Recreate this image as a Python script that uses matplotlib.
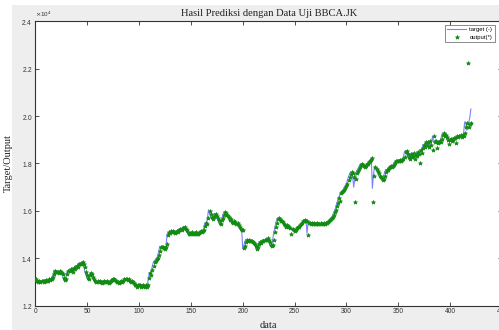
import matplotlib
matplotlib.use("Agg")
import matplotlib.pyplot as plt
from matplotlib.patches import Rectangle
import numpy as np

# Closing prices of BBCA.JK in the test set (target) and the network's predictions (output)
target = [
    13100, 13050, 13000, 13050, 13000, 13050, 13050, 13000, 13050, 13100,
    13050, 13050, 13100, 13100, 13150, 13100, 13200,
    13300, 13500, 13450, 13400, 13450, 13400,
    13450, 13450, 13400, 13350, 13150, 13050, 13100,
    13350, 13450, 13500, 13550, 13500, 13450, 13600, 13550, 13650, 13700,
    13600, 13750, 13800, 13750, 13800,
    13850, 13800, 13600,
    13400, 13300, 13150, 13100, 13300, 13400,
    13350, 13200, 13100, 13050, 13000,
    13050, 13000, 13050, 13000, 12950, 13000, 13050, 13000, 13000, 13050,
    13000, 12950, 13000, 13050, 13100, 13150, 13150, 13100, 13050, 13000,
    13000, 12950,
    13000, 13050, 13000, 13050, 13100, 13150, 13150, 13100, 13100, 13050,
    13000, 13050, 13000, 12950, 12900, 12850, 12800,
    12850, 12900, 12850, 12800, 12850, 12900, 12850, 12800, 12850, 12800,
    12850,
    13150, 13400, 13300, 13500, 13700, 13850, 13900, 13950, 14000, 14100,
    14300, 14500,
    14450, 14500, 14450, 14400, 14500, 14450,
    15000, 15100, 15050, 15150, 15100, 15150, 15100, 15050, 15100, 15150,
    15100, 15200, 15250, 15200, 15250, 15300, 15350, 15250, 15200,
    15100, 15050, 15000, 15050, 15100, 15050, 15000, 15050, 15100, 15050,
    15000, 15050, 15100, 15150, 15100, 15150, 15200,
    15400, 15500, 15450, 15700, 16050, 15900, 15750, 15650,
    15750, 15850, 15900, 15800, 15700, 15600, 15500, 15450, 15600, 15700,
    15850, 15950,
    15950, 15850, 15800, 15750, 15600, 15650, 15550, 15500, 15550, 15550,
    15450, 15500, 15400, 15300, 15250, 15200, 15200,
    14400,
    14500, 14700, 14800, 14750, 14800, 14750, 14700, 14750, 14700, 14650,
    14600, 14550,
    14400, 14450, 14600, 14700, 14650, 14700, 14750, 14800, 14750, 14800,
    14850, 14800, 14700, 14550, 14500,
    14550, 14800, 15100, 15300, 15500, 15650, 15700, 15650, 15600, 15550,
    15550, 15500, 15450, 15400, 15350, 15400, 15350, 15300, 15250, 15200,
    15250, 15200, 15150, 15200, 15300, 15350, 15300, 15400, 15450, 15500,
    15550, 15600, 15600,
    15600, 15050, 15500,
    15500, 15450, 15500, 15450, 15500, 15450, 15450, 15500, 15450, 15450,
    15500, 15450, 15450, 15500, 15450, 15500, 15500, 15550, 15550, 15600,
    15650, 15700,
    15750, 15850, 15950, 16050, 16200, 16350, 16550, 16600, 16750, 16800,
    16850, 16900, 17000, 17050, 17150,
    17300, 17450, 17550, 17650, 17600, 17450, 17000, 17350, 17600, 17700,
    17750, 17850, 17950,
    18000, 17950, 17900, 17850, 17900, 17950, 18000, 18050, 18100, 18150,
    18250,
    16950,
    17500, 17850, 17750, 17700, 17600, 17500, 17450, 17400, 17300, 17350,
    17500, 17650,
    17750, 17700, 17800, 17850, 17900, 17850, 17900, 17950, 18050, 18100,
    18100, 18100, 18100, 18150, 18100, 18150, 18200, 18300,
    18500, 18550, 18400, 18300, 18200, 18400, 18250, 18300, 18450, 18200,
    18350, 18300, 18500, 18400, 18450, 18600, 18450, 18650,
    18800, 18700, 18900, 18750, 18900, 18700, 18950, 18800, 18900, 19150,
    18900, 18950, 19000, 18850, 18900, 18950, 18900, 19050, 19200,
    19300, 19150, 19200, 19100, 19000, 19100, 19000, 19050, 18950, 19000,
    19100, 19050, 19000, 19150, 19100, 19150, 19200, 19100, 19200, 19150,
    19300, 19750,
    19750, 19400, 19550, 19750, 19950, 20300,
]

output = [
    13080, 13110, 13040, 13010, 13060, 13010, 13060, 13040, 13020, 13060,
    13090, 13040, 13060, 13110, 13090, 13140, 13120,
    13190, 13320, 13480, 13430, 13410, 13440,
    13390, 13460, 13430, 13390, 13330, 13170, 13070,
    13120, 13330, 13460, 13480, 13540, 13490, 13440, 13590, 13560, 13630,
    13690, 13620, 13740, 13780, 13760,
    13790, 13840, 13780,
    13620, 13410, 13290, 13170, 13120, 13280,
    13390, 13330, 13210, 13110, 13040,
    13020, 13060, 13000, 13040, 13010, 12960, 13010, 13040, 13010, 12990,
    13060, 12990, 12960, 13010, 13060, 13090, 13140, 13140, 13090, 13060,
    13000, 13010,
    12960, 13010, 13060, 13010, 13050, 13110, 13140, 13140, 13090, 13110,
    13040, 13010, 13060, 12990, 12940, 12890, 12860,
    12790, 12860, 12880, 12860, 12800, 12840, 12890, 12840, 12810, 12860,
    12790,
    12870, 13160, 13380, 13310, 13510, 13690, 13840, 13890, 13960, 14010,
    14120, 14290,
    14480, 14460, 14490, 14430, 14410, 14490,
    14620, 15000, 15090, 15060, 15140, 15100, 15140, 15090, 15060, 15110,
    15140, 15110, 15190, 15240, 15210, 15260, 15290, 15340, 15240,
    15190, 15110, 15040, 15010, 15060, 15090, 15040, 15010, 15060, 15090,
    15040, 15010, 15060, 15110, 15140, 15110, 15160,
    15210, 15380, 15490, 15460, 15690, 16010, 15880, 15740,
    15660, 15760, 15840, 15890, 15790, 15690, 15610, 15490, 15460, 15610,
    15690, 15840,
    15940, 15930, 15840, 15790, 15740, 15610, 15640, 15540, 15510, 15560,
    15540, 15460, 15490, 15390, 15310, 15240, 15210,
    15180,
    14420, 14510, 14690, 14790, 14740, 14790, 14740, 14710, 14740, 14690,
    14640, 14590,
    14540, 14410, 14460, 14610, 14690, 14640, 14710, 14740, 14790, 14760,
    14790, 14840, 14790, 14690, 14560,
    14510, 14560, 14790, 15090, 15310, 15490, 15640, 15690, 15640, 15590,
    15560, 15540, 15460, 15410, 15340, 15390, 15360, 15310, 15260, 15040,
    15240, 15210, 15160, 15190, 15290, 15340, 15310, 15390, 15440, 15490,
    15560, 15590, 15610,
    15590, 15560, 14980,
    15480, 15510, 15460, 15490, 15460, 15490, 15460, 15450, 15490, 15460,
    15450, 15490, 15460, 15450, 15490, 15460, 15490, 15510, 15540, 15560,
    15600, 15640,
    15690, 15740, 15840, 15940, 16040, 16190, 16340, 16530, 16400, 16740,
    16790, 16840, 16900, 16980, 17040,
    17140, 17290, 17440, 17560, 17640, 17590, 17440, 16390, 17340, 17590,
    17690, 17760, 17840,
    17940, 17990, 17940, 17890, 17860, 17910, 17960, 17990, 18060, 18110,
    18140,
    18240,
    16390, 17490, 17840, 17760, 17690, 17610, 17490, 17440, 17390, 17310,
    17360, 17490,
    17640, 17740, 17710, 17790, 17840, 17890, 17860, 17910, 17940, 18040,
    18090, 18110, 18090, 18110, 18140, 18110, 18160, 18190,
    18290, 18490, 18540, 18410, 18290, 18210, 18390, 18260, 18310, 18440,
    18210, 18340, 18310, 18490, 18410, 18010, 18590, 18460,
    18640, 18790, 18710, 18890, 18760, 18890, 18710, 18940, 18790, 18560,
    19140, 18910, 18940, 18640, 18860, 18890, 18940, 18910, 19040,
    19190, 19290, 19160, 19190, 19110, 19010, 18840, 19010, 19040, 18960,
    18990, 19090, 19060, 18860, 19140, 19110, 19140, 19190, 19110, 19190,
    19160, 19290,
    19560, 19710, 22250, 19520, 19650, 19690,
]

title = "Hasil Prediksi dengan Data Uji BBCA.JK"
xlabel = "data"
ylabel = "Target/Output"
legend_labels = ["target (-)", "output(*)"]
xticks = [0, 50, 100, 150, 200, 250, 300, 350, 400, 450]
yticks = [12000, 14000, 16000, 18000, 20000, 22000, 24000]

W, H = 499, 330
fig = plt.figure(figsize=(W / 100, H / 100), dpi=100, facecolor="white")

# grey window background
fig.patches.append(Rectangle((12 / W, 0), 1 - 12 / W, 1 - 5 / H,
                             transform=fig.transFigure, facecolor="#eeeeee",
                             edgecolor="none", zorder=-10))

left, right, top, bottom = 35.3, 502.0, 21.3, 305.7
ax = fig.add_axes([left / W, 1 - bottom / H, (right - left) / W, (bottom - top) / H])
ax.set_facecolor("white")

x = np.arange(len(target))
ax.plot(x, target, color="#8080ff", linewidth=0.8, label=legend_labels[0], zorder=2)
ax.plot(x, output, linestyle="none", marker="*", markersize=3.0,
        color="#118c11", markeredgewidth=0.5, label=legend_labels[1], zorder=3)

ax.set_xlim(0, 450)
ax.set_ylim(12000, 24000)
ax.set_xticks(xticks)
ax.set_yticks(yticks)
ax.ticklabel_format(axis="y", style="sci", scilimits=(0, 0), useMathText=True)
ax.yaxis.get_offset_text().set_fontsize(4.5)
ax.yaxis.get_offset_text().set_fontfamily("Liberation Sans")
ax.yaxis.get_offset_text().set_color("#444444")

ax.tick_params(direction="in", length=3, width=0.6, top=True, right=True,
               labelsize=4.8, colors="#333333", pad=2)
for lab in ax.get_xticklabels() + ax.get_yticklabels():
    lab.set_fontfamily("Liberation Sans")
for sp in ax.spines.values():
    sp.set_linewidth(0.8)
    sp.set_color("#333333")

ax.set_title(title, fontfamily="Liberation Serif", fontsize=7.6, pad=3.5, color="#222222")
ax.set_xlabel(xlabel, fontfamily="Liberation Serif", fontsize=7.5, labelpad=4, color="#222222")
ax.set_ylabel(ylabel, fontfamily="Liberation Serif", fontsize=7.5, labelpad=6, color="#222222")

leg = ax.legend(loc="upper left", bbox_to_anchor=((445 - left) / (right - left), 0.988),
                prop={"family": "Liberation Sans", "size": 4.2}, frameon=True,
                fancybox=False, borderpad=0.4, handlelength=3.2, handletextpad=0.6,
                labelspacing=0.4, borderaxespad=0)
leg.get_frame().set_edgecolor("#555555")
leg.get_frame().set_linewidth(0.6)

fig.savefig("out.png", dpi=100, facecolor="white")
